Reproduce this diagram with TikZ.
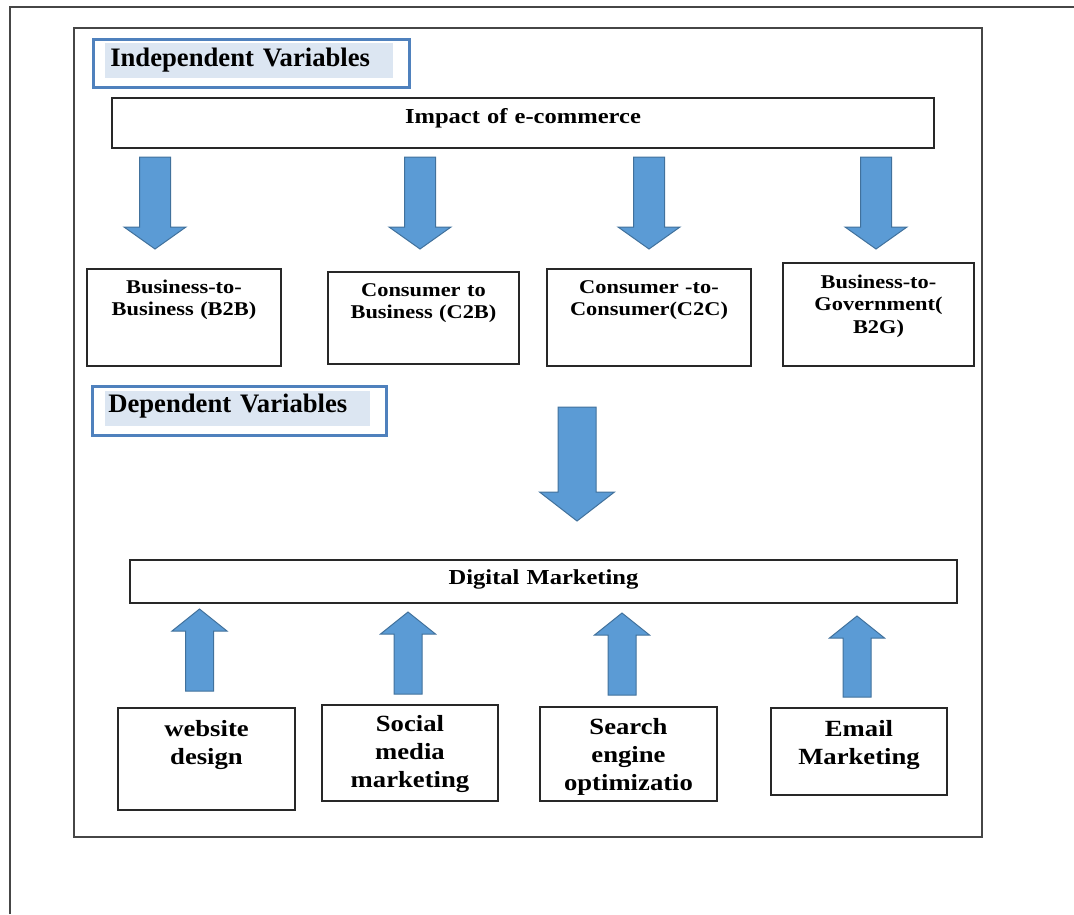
\documentclass[tikz,border=0pt]{standalone}
\usepackage{fontspec}
\setmainfont{Liberation Serif}[FakeStretch=1.15]
\newfontfamily\headfont{Liberation Serif}
\definecolor{arrowblue}{RGB}{91,155,213}
\definecolor{arrowedge}{RGB}{65,113,156}
\definecolor{headblue}{RGB}{79,129,189}
\definecolor{headfill}{RGB}{220,230,242}
\definecolor{edgegray}{RGB}{70,70,70}
\definecolor{boxline}{RGB}{40,40,40}

\begin{document}
\begin{tikzpicture}[x=0.75pt,y=-0.75pt,line join=miter]
	\tikzset{
		cell/.style={draw=boxline,line width=1.5pt,inner sep=0pt,anchor=north west,align=center,font=\fontsize{14.6}{16.9}\selectfont\bfseries},
		tool/.style={cell,font=\fontsize{17.4}{21}\selectfont\bfseries},
		mainbox/.style={cell,font=\fontsize{16}{19}\selectfont\bfseries},
		headframe/.style={draw=headblue,line width=2.25pt,inner sep=0pt,anchor=north west},
		headtext/.style={fill=headfill,anchor=north west,inner ysep=0pt,align=left,font=\headfont\fontsize{20}{24}\selectfont\bfseries},
		blockarrow/.style={fill=arrowblue,draw=arrowedge,line width=0.75pt}
	}
	\useasboundingbox (0,0) rectangle (1074,914);
	\draw[edgegray,line width=1.5pt] (10,914) -- (10,7) -- (1074,7);
	\draw[edgegray,line width=1.5pt] (74,28) rectangle (982,837);
	% independent side
	\node[headframe,minimum width=237pt,minimum height=36pt] (indepframe) at (91.5,37.5) {};
	\node[headtext,minimum width=216pt,inner xsep=3.75pt,text width=208.5pt,text height=17.25pt,text depth=9pt] (indep) at (105,43) {Independent Variables};
	\node[mainbox,text width=616.5pt,text height=18.75pt,text depth=18.75pt] (impact) at (111,97) {Impact of e-commerce};
	\foreach \x in {155,420,649,876}
	\draw[blockarrow] ({\x-15.5},157) -- ({\x+15.5},157) -- ({\x+15.5},227) -- ({\x+31},227) -- (\x,249) -- ({\x-31},227) -- ({\x-15.5},227) -- cycle;
	\node[cell,text width=145.5pt,text height=18pt,text depth=54.75pt] (b2b) at (86,268) {Business-to-\\Business (B2B)};
	\node[cell,text width=143.25pt,text height=18pt,text depth=51pt] (c2b) at (327,271) {Consumer to\\Business (C2B)};
	\node[cell,text width=153pt,text height=18pt,text depth=54.75pt] (c2c) at (546,268) {Consumer -to-\\Consumer(C2C)};
	\node[cell,text width=143.25pt,text height=18.75pt,text depth=58.5pt] (b2g) at (782,262) {Business-to-\\Government(\\B2G)};
	% dependent side
	\node[headframe,minimum width=220.5pt,minimum height=36.75pt] (depframe) at (90.5,384.5) {};
	\node[headtext,minimum width=198.75pt,inner xsep=2.25pt,text width=194.25pt,text height=15.75pt,text depth=10.5pt] (dep) at (105,391) {Dependent Variables};
	\draw[blockarrow] (558,407) -- (596,407) -- (596,492) -- (614.5,492) -- (577,521) -- (539.5,492) -- (558,492) -- cycle;
	\node[mainbox,text width=620.25pt,text height=18pt,text depth=14.25pt] (digital) at (129,559) {Digital Marketing};
	\foreach \x/\t/\b in {199.5/609/691,408/612/694,622/613/695,857/616/697}
	\draw[blockarrow] ({\x-14},\b) -- ({\x+14},\b) -- ({\x+14},{\t+22}) -- ({\x+27.5},{\t+22}) -- (\x,\t) -- ({\x-27.5},{\t+22}) -- ({\x-14},{\t+22}) -- cycle;
	\node[tool,text width=132.75pt,text height=21pt,text depth=55.5pt] (web) at (117,707) {website\\design};
	\node[tool,text width=132pt,text height=19.5pt,text depth=52.5pt] (social) at (321,704) {Social\\media\\marketing};
	\node[tool,text width=132.75pt,text height=20.25pt,text depth=50.25pt] (seo) at (539,706) {Search\\engine\\optimizatio};
	\node[tool,text width=132pt,text height=21pt,text depth=44.25pt] (email) at (770,707) {Email\\Marketing};
\end{tikzpicture}
\end{document}
